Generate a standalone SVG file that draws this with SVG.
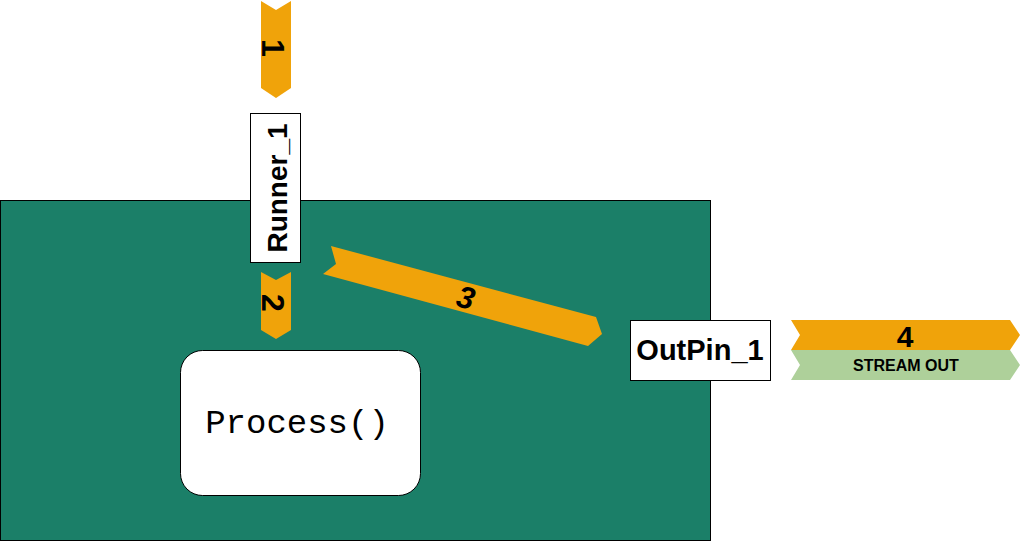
<svg xmlns="http://www.w3.org/2000/svg" width="1021" height="541" viewBox="0 0 1021 541">
<style>
.chev{fill:#f0a30a;stroke:none}
.box{fill:#fff;stroke:#000;stroke-width:1}
.lbl{font-family:"Liberation Sans",Arial,sans-serif;font-weight:bold;fill:#000;text-anchor:middle}
</style>
<rect width="1021" height="541" fill="#fff"/>
<g id="container">
<rect x="0.5" y="200.5" width="710" height="340" fill="#1b7f68" stroke="#000" stroke-width="1"/>
</g>
<g id="connectors">
<g id="step1">
<polygon class="chev" points="261,1 276,10 291,1 291,88 276,98 261,88"/>
<text class="lbl" font-size="32" transform="translate(262,48) rotate(90)">1</text>
</g>
<g id="step2">
<polygon class="chev" points="261,272 276,280 291,272 291,330 276,339 261,330"/>
<text class="lbl" font-size="32" transform="translate(262,303) rotate(90)">2</text>
</g>
<g id="step3">
<polygon class="chev" points="331,246 596,317 602,334 588,346 323,274 336,264"/>
<text class="lbl" font-size="31" font-style="italic" transform="translate(463,308) rotate(15)">3</text>
</g>
</g>
<g id="runner">
<rect class="box" x="250.5" y="113.5" width="50" height="149"/>
<text class="lbl" font-size="28" transform="translate(287,188) rotate(-90)">Runner_1</text>
</g>
<g id="process">
<rect class="box" x="180.5" y="350.5" width="240" height="145" rx="22"/>
<text x="297" y="433" font-family="'Liberation Mono','Courier New',monospace" font-size="34" text-anchor="middle" fill="#000">Process()</text>
</g>
<g id="outpin">
<rect class="box" x="630.5" y="320.5" width="140" height="60"/>
<text class="lbl" font-size="29" x="700" y="360">OutPin_1</text>
</g>
<g id="step4">
<polygon class="chev" points="791,320 1010,320 1020,335 1010,350 791,350 800,335"/>
<text class="lbl" font-size="30" x="905" y="347">4</text>
</g>
<g id="streamout">
<polygon points="791,350 1010,350 1020,365 1010,380 791,380 800,365" fill="#aed09a"/>
<text class="lbl" font-size="16" x="906" y="371">STREAM OUT</text>
</g>
</svg>
